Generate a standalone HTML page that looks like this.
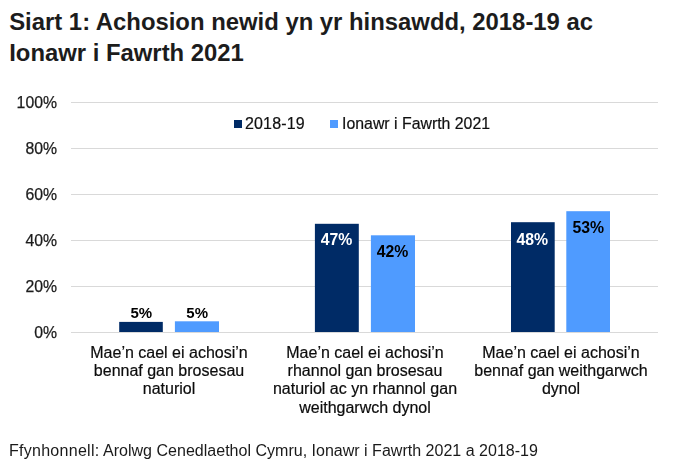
<!DOCTYPE html>
<html><head><meta charset="utf-8">
<style>
html,body{margin:0;padding:0;background:#fff;}
body{width:673px;height:470px;position:relative;overflow:hidden;font-family:"Liberation Sans",sans-serif;color:#1a1a1a;}
.title{position:absolute;left:9.2px;top:6px;font-size:23.86px;font-weight:bold;line-height:31px;white-space:nowrap;color:#1c1c1c;}
.grid{position:absolute;left:71px;width:587px;height:1px;background:#d9d9d9;}
.yl{position:absolute;left:0;width:57px;text-align:right;font-size:15.8px;line-height:18px;color:#1c1c1c;-webkit-text-stroke:0.25px #1c1c1c;}
.bar{position:absolute;}
.d{background:#002b66;}
.l{background:#4f9bff;}
.v{position:absolute;font-size:15.8px;font-weight:bold;line-height:18px;text-align:center;width:44px;color:#000;}
.w{color:#fff;}
.cat{position:absolute;width:200px;text-align:center;font-size:16px;line-height:18.2px;color:#0c0c0c;-webkit-text-stroke:0.2px #0c0c0c;}
.leg{position:absolute;font-size:16px;line-height:18px;color:#101010;-webkit-text-stroke:0.2px #101010;white-space:nowrap;}
.sq{position:absolute;width:8px;height:8px;}
.src{position:absolute;left:8.9px;top:441px;font-size:16.05px;line-height:18px;white-space:nowrap;color:#1a1a1a;}
</style></head><body>
<div class="title">Siart 1: Achosion newid yn yr hinsawdd, 2018-19 ac<br>Ionawr i Fawrth 2021</div>

<div id="chart" style="position:absolute;left:0;top:0;width:673px;height:430px;will-change:transform;">
<div class="grid" style="top:102px"></div>
<div class="grid" style="top:148px"></div>
<div class="grid" style="top:194px"></div>
<div class="grid" style="top:240px"></div>
<div class="grid" style="top:286px"></div>
<div class="grid" style="top:332px"></div>

<div class="yl" style="top:94px">100%</div>
<div class="yl" style="top:140px">80%</div>
<div class="yl" style="top:186px">60%</div>
<div class="yl" style="top:232px">40%</div>
<div class="yl" style="top:278px">20%</div>
<div class="yl" style="top:324px">0%</div>

<div class="sq d" style="left:234px;top:120px"></div>
<div class="leg" style="left:245px;top:115px;letter-spacing:0.15px">2018-19</div>
<div class="sq l" style="left:330px;top:120px"></div>
<div class="leg" style="left:342.1px;top:115px;font-size:15.85px">Ionawr i Fawrth 2021</div>

<svg style="position:absolute;left:0;top:0" width="673" height="470" viewBox="0 0 673 470">
<rect x="119.2" y="321.9" width="43.6" height="10.1" fill="#002b66"/>
<rect x="174.9" y="321.3" width="44.1" height="10.7" fill="#4f9bff"/>
<rect x="314.9" y="223.8" width="43.9" height="108.2" fill="#002b66"/>
<rect x="370.9" y="235.3" width="44.1" height="96.7" fill="#4f9bff"/>
<rect x="511" y="222.2" width="43.7" height="109.8" fill="#002b66"/>
<rect x="566.3" y="211.2" width="43.7" height="120.8" fill="#4f9bff"/>
</svg>

<div class="v" style="left:119.3px;top:304px;font-size:15px">5%</div>
<div class="v" style="left:175.2px;top:304px;font-size:15px">5%</div>
<div class="v w" style="left:314.5px;top:231px">47%</div>
<div class="v" style="left:370.5px;top:243px">42%</div>
<div class="v w" style="left:510.3px;top:230.5px">48%</div>
<div class="v" style="left:566.3px;top:219px">53%</div>

<div class="cat" style="left:69px;top:344px">Mae’n cael ei achosi’n<br>bennaf gan brosesau<br>naturiol</div>
<div class="cat" style="left:265px;top:344px">Mae’n cael ei achosi’n<br>rhannol gan brosesau<br>naturiol ac yn rhannol gan<br>weithgarwch dynol</div>
<div class="cat" style="left:461px;top:344px">Mae’n cael ei achosi’n<br>bennaf gan weithgarwch<br>dynol</div>

</div>
<div class="src"><span style="letter-spacing:0.27px">Ffynhonnell:</span> Arolwg Cenedlaethol Cymru, Ionawr i Fawrth 2021 a 2018-19</div>
</body></html>
